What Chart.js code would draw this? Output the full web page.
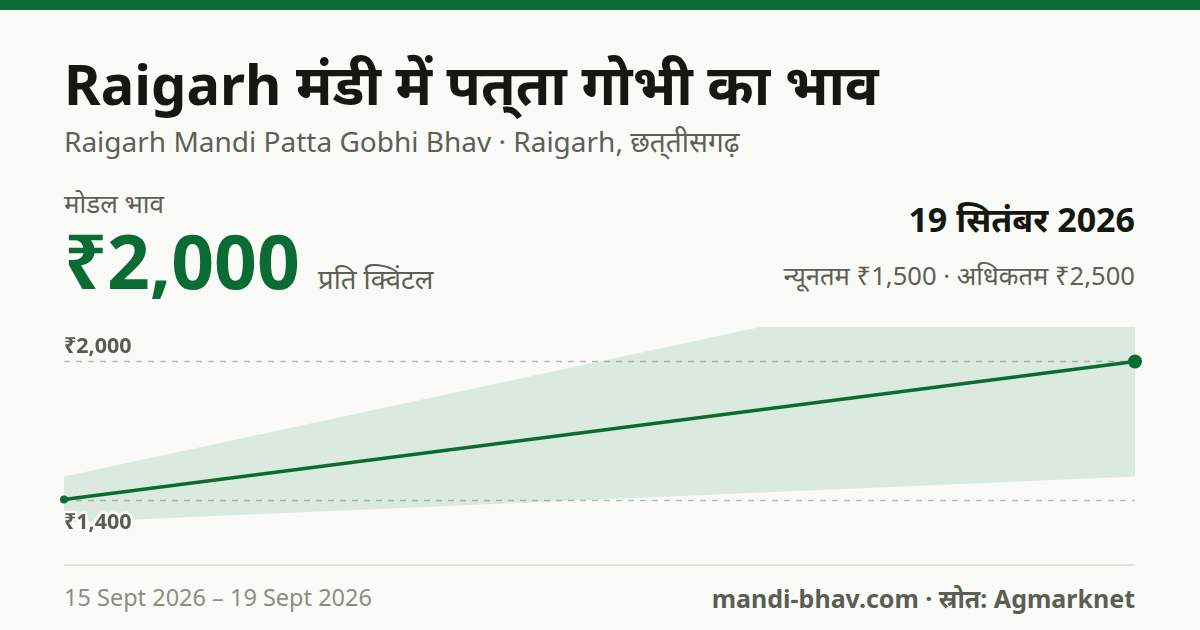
<!DOCTYPE html>
<html lang="hi">
<head>
<meta charset="utf-8">
<script src="https://cdn.jsdelivr.net/npm/chart.js@4.4.1/dist/chart.umd.min.js"></script>
<style>
  html, body { margin: 0; padding: 0; }
  body {
    width: 1200px; height: 630px; overflow: hidden; position: relative;
    background: #fafbf7; font-family: "Noto Sans", sans-serif; color: #151811;
  }
  .topbar { position: absolute; left: 0; top: 0; width: 1200px; height: 10px; background: #0b6b35; }
  .t { position: absolute; white-space: nowrap; line-height: 1; }
  #title { left: 64px; top: 55px; font-size: 56px; font-weight: 700; color: #151811; }
  #sub { left: 64px; top: 127px; font-size: 28px; color: #5c6057; }
  #lbl { left: 64px; top: 190px; font-size: 26px; color: #5c6057; }
  #big { left: 64px; top: 223px; font-size: 75px; font-weight: 700; color: #0b6b35; }
  #unit { left: 318px; top: 265px; font-size: 27.5px; color: #5c6057; }
  #date { right: 65px; top: 202px; font-size: 34px; font-weight: 700; color: #151811; }
  #range { right: 65px; top: 263px; font-size: 25.6px; color: #5c6057; }
  #sep { position: absolute; left: 64px; top: 564px; width: 1071px; height: 2px; background: #e2e4dc; }
  #period { left: 64px; top: 586px; font-size: 23.5px; color: #8b8e85; }
  #src { right: 65px; top: 586px; font-size: 25px; font-weight: 700; color: #5a5e54; }
  #wrap { position: absolute; left: 44px; top: 300px; width: 1112px; height: 260px; }
</style>
</head>
<body>
<div class="topbar"></div>
<div class="t" id="title">Raigarh मंडी में पत्&zwnj;ता गोभी का भाव</div>
<div class="t" id="sub">Raigarh Mandi Patta Gobhi Bhav · Raigarh, छत्&zwnj;तीसगढ़</div>
<div class="t" id="lbl">मोडल भाव</div>
<div class="t" id="big">₹2,000</div>
<div class="t" id="unit">प्रति क्विंटल</div>
<div class="t" id="date">19 सितंबर 2026</div>
<div class="t" id="range">न्यूनतम ₹1,500 · अधिकतम ₹2,500</div>
<div id="wrap"><canvas id="chart"></canvas></div>
<div id="sep"></div>
<div class="t" id="period">15 Sept 2026 – 19 Sept 2026</div>
<div class="t" id="src">mandi-bhav.com · स्रोत: Agmarknet</div>

<script>
  // दिनांक और भाव (₹/क्विंटल)
  const dates = ["15 Sept 2026", "19 Sept 2026"];
  const modalPrice = [1400, 2000];
  const minPrice = [1300, 1500];
  const maxPrice = [1500, 2500];
  const gridValues = [2000, 1400];
  const yMin = 1250;
  const yMax = 2150;

  const GREEN = "#0b6b35";
  const BG = "#fafbf7";

  const fmt = (v) => "₹" + Number(v).toLocaleString("en-IN");

  // dashed guide lines + labels at modal min / max
  const guides = {
    id: "guides",
    beforeDatasetsDraw(chart) {
      const { ctx, chartArea, scales } = chart;
      ctx.save();
      ctx.strokeStyle = "#b9bcb3";
      ctx.lineWidth = 1.5;
      ctx.setLineDash([6, 6]);
      gridValues.forEach((v) => {
        const y = Math.round(scales.y.getPixelForValue(v)) + 0.5;
        ctx.beginPath();
        ctx.moveTo(chartArea.left, y);
        ctx.lineTo(chartArea.right, y);
        ctx.stroke();
      });
      ctx.restore();
    },
    afterDatasetsDraw(chart) {
      const { ctx, chartArea, scales } = chart;
      ctx.save();
      ctx.font = "700 21.5px 'Noto Sans'";
      ctx.textAlign = "left";
      ctx.textBaseline = "alphabetic";
      ctx.lineJoin = "round";
      gridValues.forEach((v, i) => {
        const y = scales.y.getPixelForValue(v);
        const ty = i === 0 ? y - 9 : y + 29;
        ctx.strokeStyle = BG;
        ctx.lineWidth = 5;
        ctx.strokeText(fmt(v), chartArea.left, ty);
        ctx.fillStyle = "#585d52";
        ctx.fillText(fmt(v), chartArea.left, ty);
      });
      ctx.restore();
    }
  };

  new Chart(document.getElementById("chart"), {
    type: "line",
    data: {
      labels: dates,
      datasets: [
        {
          label: "अधिकतम",
          data: maxPrice,
          borderWidth: 0,
          pointRadius: 0,
          fill: false,
          clip: 0,
          order: 3
        },
        {
          label: "न्यूनतम",
          data: minPrice,
          borderWidth: 0,
          pointRadius: 0,
          backgroundColor: "rgba(11,107,53,0.12)",
          fill: "-1",
          clip: 0,
          order: 2
        },
        {
          label: "मोडल",
          data: modalPrice,
          borderColor: GREEN,
          borderWidth: 3.5,
          backgroundColor: GREEN,
          pointBackgroundColor: GREEN,
          pointBorderWidth: 0,
          pointRadius: [4, 7],
          fill: false,
          clip: false,
          order: 1
        }
      ]
    },
    options: {
      responsive: true,
      maintainAspectRatio: false,
      animation: false,
      layout: { padding: { left: 20, right: 21, top: 27, bottom: 26 } },
      plugins: { legend: { display: false }, tooltip: { enabled: false } },
      scales: {
        x: { display: false, offset: false },
        y: { display: false, min: yMin, max: yMax }
      }
    },
    plugins: [guides]
  });
</script>
</body>
</html>
